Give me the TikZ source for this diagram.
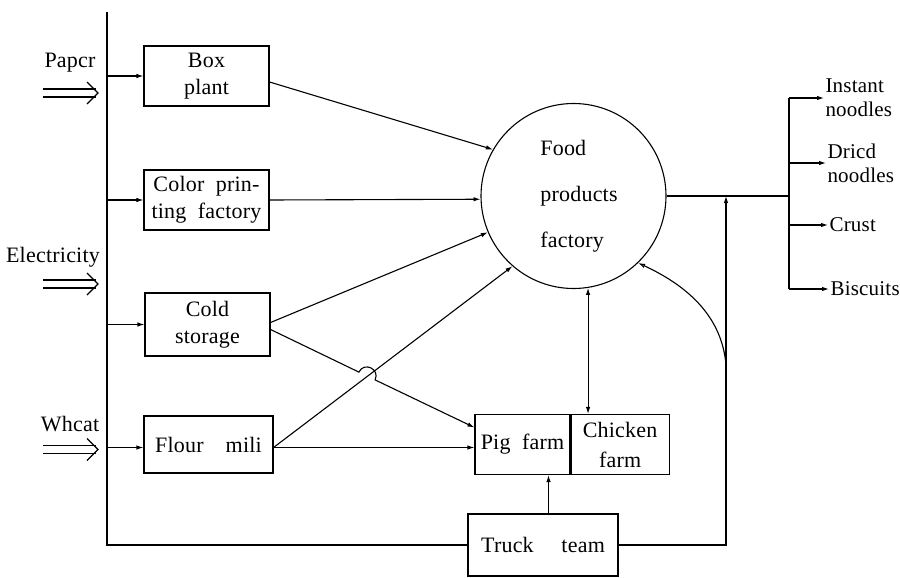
\documentclass[tikz,border=0pt]{standalone}
\usepackage{fontspec}
\setmainfont{Liberation Serif}[LetterSpace=1]
\usetikzlibrary{arrows.meta,calc}
\newcommand\inarrow[1]{%
  \draw (43,#1-4) -- (96,#1-4) (43,#1+4) -- (96,#1+4);
  \draw (87,#1-11) -- (98,#1) -- (87,#1+11);}
\begin{document}
\begin{tikzpicture}[x=1pt,y=-1pt,line width=1.1pt,
  every node/.style={font=\fontsize{22}{27}\selectfont},
  blk/.style={draw,rectangle,inner sep=0pt,align=center},
  arr/.style={-{Latex[length=7pt,width=4.5pt]}},
  lbl/.style={inner sep=0pt,align=left,anchor=west,font=\fontsize{21}{24}\selectfont}]
\useasboundingbox (0,0) rectangle (900,578);

% boxes
\node[blk,minimum width=125pt,minimum height=60pt] (boxp) at (206.5,76) {Box\\plant};
\node[blk,minimum width=125pt,minimum height=60pt] (colp) at (206.5,200) {Color\ \ prin-\\ting\ \ factory};
\node[blk,minimum width=125pt,minimum height=63pt] (cold) at (207.5,324.5) {Cold\\storage};
\node[blk,minimum width=129pt,minimum height=57pt] (flour) at (208.5,444.5) {Flour\quad mili};
\node[blk,minimum width=95pt,minimum height=60pt] (pig) at (522.5,444.5) {Pig\ \ farm};
\node[blk,minimum width=98pt,minimum height=60pt,anchor=west,font=\fontsize{22}{30}\selectfont] (chick) at (pig.east) {Chicken\\farm};
\node[blk,minimum width=150pt,minimum height=62pt] (truck) at (543,545) {Truck\quad\ team};
\node[draw,circle,minimum size=185pt,inner sep=0pt] (food) at (573.5,196) {};
\node[align=left,inner sep=0pt,font=\fontsize{22}{46}\selectfont] (foodlbl) at (579,196) {Food\\products\\factory};

% inputs
\node (paper) at (70,63) {Papcr};
\node (elec) at (53,257) {Electricity};
\node (wheat) at (70,424) {Whcat};
\inarrow{93}
\inarrow{284}
\inarrow{449.5}

% left bus
\coordinate (lbtop) at (107,12);
\draw (lbtop) -- (lbtop |- truck.west) -- (truck.west);
\draw[arr] (boxp.west -| lbtop) -- (boxp.west);
\draw[arr] (colp.west -| lbtop) -- (colp.west);
\draw[arr] (cold.west -| lbtop) -- (cold.west);
\draw[arr] ([yshift=-3pt]flour.west -| lbtop) -- ([yshift=-3pt]flour.west);

% to food factory
\draw[arr] ([yshift=-6pt]boxp.east) -- (food.150);
\draw[arr] (colp.east) -- (food.182);
\draw[arr] ([yshift=2pt]cold.east) -- (food.203);
\draw[arr] ([yshift=-3pt]flour.east) -- (food.229);

% cold storage to pig farm with jump
\coordinate (jA) at (358.9,372.1);
\coordinate (jB) at (375.1,379.9);
\coordinate (jA1) at (364.1,361.3);
\coordinate (jB1) at (380.3,369.1);
\draw[arr] ([yshift=-5pt]cold.east) -- (jA) .. controls (jA1) and (jB1) .. (jB) -- ([yshift=17pt]pig.west);
\draw[arr] ([yshift=-3pt]flour.east) -- ([yshift=-3pt]pig.west);

% food <-> chicken farm
\draw[{Latex[length=7pt,width=4.5pt]}-{Latex[length=7pt,width=4.5pt]}] (food.279) -- (food.279 |- chick.north);

% truck team
\draw[arr] ([xshift=5.5pt]truck.north) -- ([xshift=5.5pt]truck.north |- pig.south);
\coordinate (rv) at (726,365);
\draw[arr] (truck.east) -| (food.east -| rv);
\draw[-{Latex[open,length=7pt,width=4.5pt]}] (rv) .. controls (722,318) and (690,287) .. (food.314);

% outputs
\coordinate (obt) at (789,98);
\coordinate (obb) at (789,289);
\node[lbl] (inst) at (825,98) {Instant\\noodles};
\node[lbl] (dri) at (827,163) {Dricd\\noodles};
\node[lbl] (crust) at (829,225) {Crust};
\node[lbl] (bisc) at (830,289) {Biscuits};
\draw (food.east) -- (food.east -| obt);
\draw (obt) -- (obb);
\draw[arr,shorten >=1pt] (obt) -- (inst.west);
\draw[arr,shorten >=1pt] (dri.west -| obt) -- (dri.west);
\draw[arr,shorten >=1pt] (crust.west -| obt) -- (crust.west);
\draw[arr,shorten >=1pt] (obb) -- (bisc.west);
\end{tikzpicture}
\end{document}
